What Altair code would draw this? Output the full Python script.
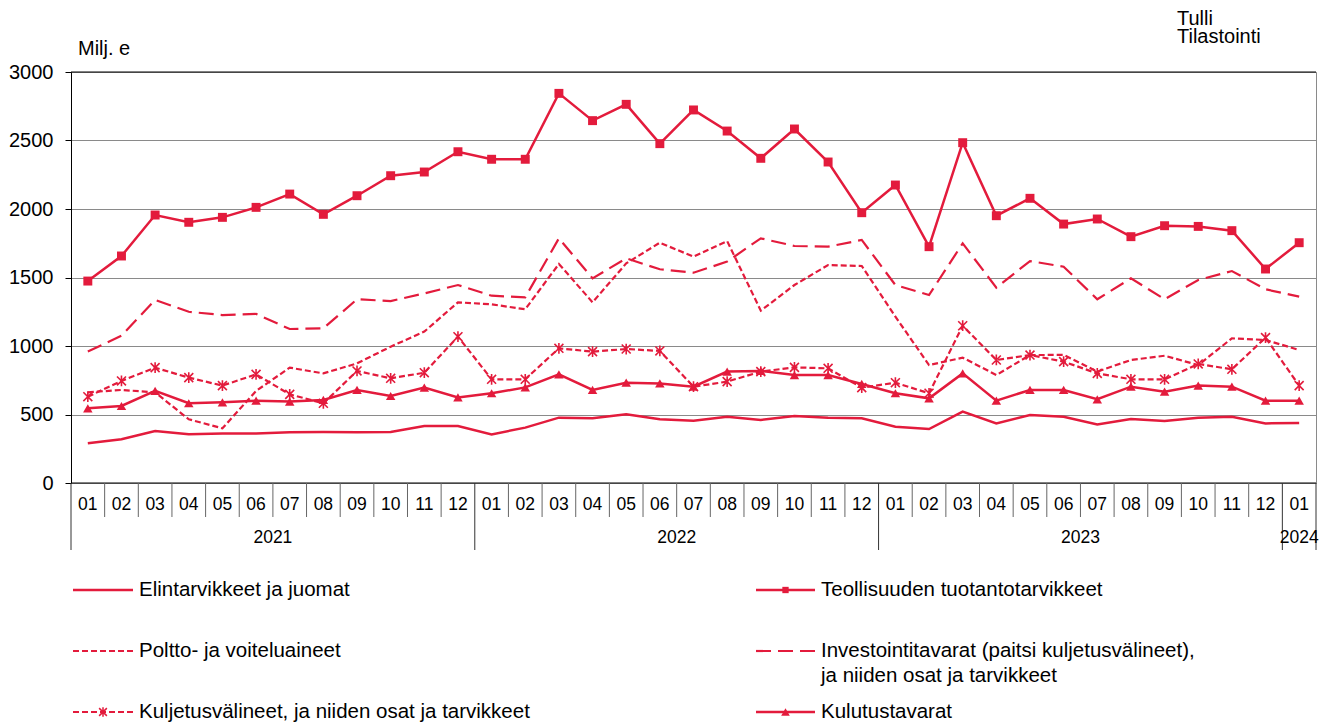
import altair as alt
import pandas as pd

RED = "#E31B3C"
FONT = "Liberation Sans"

# ---- categories ----
month_labels = ["01", "02", "03", "04", "05", "06", "07", "08", "09", "10", "11", "12"] * 3 + ["01"]
year_labels = ["2021", "2022", "2023", "2024"]
year_start = [0, 12, 24, 36]
year_len = [12, 12, 12, 1]

# ---- series values (Milj. e) ----
elintarvikkeet = [290, 319, 380, 355, 362, 362, 370, 372, 370, 372, 416, 416,
                  355, 404, 477, 472, 501, 465, 455, 484, 460, 489, 477, 472,
                  411, 394, 521, 435, 496, 484, 428, 467, 453, 477, 484, 435,
                  438]
teollisuus = [1474, 1657, 1956, 1903, 1939, 2012, 2109, 1961, 2097, 2243, 2270, 2418,
              2363, 2363, 2844, 2645, 2764, 2477, 2723, 2569, 2370, 2584, 2343, 1973,
              2175, 1725, 2484, 1951, 2078, 1890, 1927, 1798, 1878, 1873, 1842, 1562,
              1754]
poltto = [662, 679, 662, 465, 399, 672, 842, 800, 873, 995, 1105, 1319,
          1304, 1268, 1599, 1319, 1603, 1754, 1652, 1766, 1258, 1445, 1591, 1584,
          1214, 861, 915, 788, 934, 935, 813, 898, 929, 861, 1056, 1044,
          971]
investointi = [959, 1075, 1336, 1250, 1226, 1234, 1124, 1129, 1341, 1328, 1384, 1445,
               1367, 1355, 1786, 1494, 1640, 1560, 1535, 1616, 1786, 1730, 1725, 1774,
               1445, 1372, 1749, 1426, 1620, 1579, 1341, 1494, 1341, 1482, 1547, 1414,
               1360]
kuljetus = [630, 745, 842, 769, 711, 793, 647, 582, 818, 764, 805, 1068,
            757, 757, 983, 959, 978, 964, 703, 740, 813, 844, 837, 696,
            732, 655, 1148, 898, 934, 886, 800, 757, 757, 869, 830, 1061,
            711]
kulutus = [545, 562, 672, 582, 589, 601, 594, 606, 679, 635, 696, 625,
           655, 698, 793, 679, 732, 727, 703, 813, 818, 788, 788, 723,
           655, 618, 800, 601, 679, 679, 611, 703, 667, 711, 703, 601,
           601]

STAR = "M-1,-1L1,1M-1,1L1,-1M0,-1.2L0,1.2"

series = [
    # name, values, dash, marker, legend column, legend row y, legend 2nd line
    ("Elintarvikkeet ja juomat", elintarvikkeet, None, None, 0, 518, None),
    ("Teollisuuden tuotantotarvikkeet", teollisuus, None, "square", 1, 518, None),
    ("Poltto- ja voiteluaineet", poltto, [6, 3], None, 0, 579, None),
    ("Investointitavarat (paitsi kuljetusvälineet),", investointi, [15, 7], None, 1, 579,
     "ja niiden osat ja tarvikkeet"),
    ("Kuljetusvälineet, ja niiden osat ja tarvikkeet", kuljetus, [6, 3], "star", 0, 640, None),
    ("Kulutustavarat", kulutus, None, "triangle-up", 1, 640, None),
]

W, H = 1245, 411
N = len(month_labels)

X = alt.X("pos:Q", scale=alt.Scale(domain=[0, N], nice=False, zero=False), axis=None)
Y = alt.Y("value:Q",
          scale=alt.Scale(domain=[0, 3000], nice=False, zero=True),
          axis=alt.Axis(values=[0, 500, 1000, 1500, 2000, 2500, 3000], format="d", grid=True,
                        gridColor="#8a8a8a", gridWidth=1, domainColor="black",
                        tickColor="black", tickSize=6, labelFontSize=20, labelFont=FONT,
                        labelColor="black", labelPadding=12, title=None, labelFlush=False))

layers = []

# frame rules at 0 and 3000
frame = pd.DataFrame({"value": [0, 3000]})
layers.append(alt.Chart(frame).mark_rule(color="black", strokeWidth=1).encode(y=Y))

# x axis: separators and labels
sep_month = pd.DataFrame({"pos": [i for i in range(1, N) if i not in year_start]})
sep_year = pd.DataFrame({"pos": year_start + [N]})
layers.append(alt.Chart(sep_month).mark_rule(color="#666666", strokeWidth=1).encode(
    x=X, y=alt.value(H), y2=alt.value(H + 34)))
layers.append(alt.Chart(sep_year).mark_rule(color="#333333", strokeWidth=1).encode(
    x=X, y=alt.value(H), y2=alt.value(H + 67)))

mdf = pd.DataFrame({"pos": [i + 0.5 for i in range(N)], "lab": month_labels})
layers.append(alt.Chart(mdf).mark_text(font=FONT, fontSize=17.5, color="black",
                                        baseline="middle", align="center").encode(
    x=X, y=alt.value(H + 22), text="lab:N"))
ydf = pd.DataFrame({"pos": [s + l / 2 for s, l in zip(year_start, year_len)], "lab": year_labels})
layers.append(alt.Chart(ydf).mark_text(font=FONT, fontSize=17.5, color="black",
                                        baseline="middle", align="center").encode(
    x=X, y=alt.value(H + 55), text="lab:N"))

# series
for name, vals, dash, marker, col, ly, line2 in series:
    df = pd.DataFrame({"pos": [i + 0.5 for i in range(len(vals))], "value": vals})
    lkw = dict(color=RED, strokeWidth=2.2 if dash else 2.5)
    if dash:
        lkw["strokeDash"] = dash
    layers.append(alt.Chart(df).mark_line(**lkw).encode(x=X, y=Y))
    if marker == "square":
        layers.append(alt.Chart(df).mark_point(shape="square", filled=True, size=80, color=RED,
                                               opacity=1).encode(x=X, y=Y))
    elif marker == "triangle-up":
        layers.append(alt.Chart(df).mark_point(shape="triangle-up", filled=True, size=90,
                                               color=RED, opacity=1).encode(x=X, y=Y))
    elif marker == "star":
        layers.append(alt.Chart(df).mark_point(shape=STAR, filled=False, size=80, strokeWidth=1.6,
                                               color=RED, opacity=1).encode(x=X, y=Y))

# legend
one = pd.DataFrame({"a": [0]})
for name, vals, dash, marker, col, ly, line2 in series:
    x0 = 2 if col == 0 else 685
    x1 = 62 if col == 0 else 744
    tx = 68 if col == 0 else 750
    rkw = dict(color=RED, strokeWidth=2.2 if dash else 2.5)
    if dash:
        rkw["strokeDash"] = dash
    layers.append(alt.Chart(one).mark_rule(**rkw).encode(
        x=alt.value(x0), x2=alt.value(x1), y=alt.value(ly)))
    cx = (x0 + x1) / 2
    if marker == "square":
        layers.append(alt.Chart(one).mark_point(shape="square", filled=True, size=40, color=RED,
                                                opacity=1).encode(x=alt.value(cx), y=alt.value(ly)))
    elif marker == "triangle-up":
        layers.append(alt.Chart(one).mark_point(shape="triangle-up", filled=True, size=75, color=RED,
                                                opacity=1).encode(x=alt.value(cx), y=alt.value(ly)))
    elif marker == "star":
        layers.append(alt.Chart(one).mark_point(shape=STAR, filled=False, size=60, strokeWidth=1.5,
                                                color=RED, opacity=1).encode(x=alt.value(cx), y=alt.value(ly)))
    layers.append(alt.Chart(one).mark_text(text=name, font=FONT, fontSize=20.5, color="black",
                                           align="left", baseline="middle").encode(
        x=alt.value(tx), y=alt.value(ly)))
    if line2:
        layers.append(alt.Chart(one).mark_text(text=line2, font=FONT, fontSize=20.5, color="black",
                                               align="left", baseline="middle").encode(
            x=alt.value(tx), y=alt.value(ly + 25)))

# annotations
layers.append(alt.Chart(one).mark_text(text="Milj. e", font=FONT, fontSize=20, color="black",
                                       align="left", baseline="alphabetic").encode(
    x=alt.value(7), y=alt.value(-17)))
layers.append(alt.Chart(one).mark_text(text="Tulli", font=FONT, fontSize=20, color="black",
                                       align="left", baseline="alphabetic").encode(
    x=alt.value(1106), y=alt.value(-47)))
layers.append(alt.Chart(one).mark_text(text="Tilastointi", font=FONT, fontSize=20, color="black",
                                       align="left", baseline="alphabetic").encode(
    x=alt.value(1106), y=alt.value(-29)))

chart = alt.layer(*layers).properties(
    width=W, height=H,
    autosize=alt.AutoSizeParams(type="none"),
    padding={"left": 63, "top": 64, "right": 12, "bottom": 241},
    background="white",
).configure_view(stroke="#8a8a8a", strokeWidth=1)

chart.save("out.html", embed_options={"renderer": "svg", "actions": False})
